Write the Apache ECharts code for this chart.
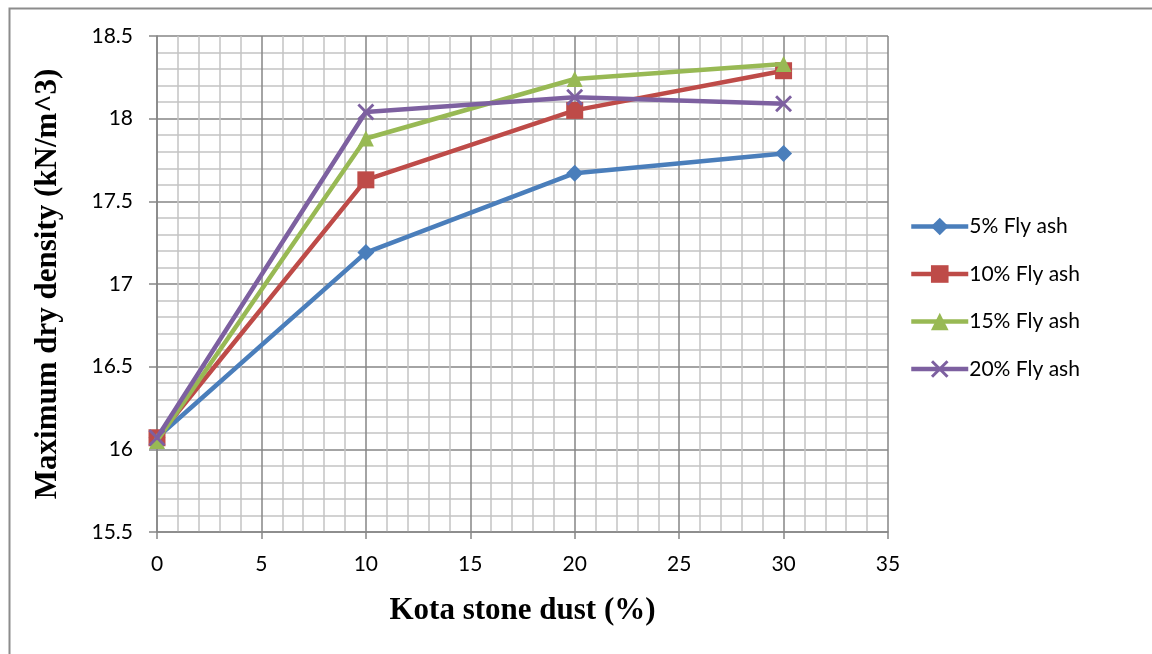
<!DOCTYPE html>
<html>
<head>
<meta charset="utf-8">
<script src="https://cdn.jsdelivr.net/npm/echarts@6/dist/echarts.min.js"></script>
<style>
html,body{margin:0;padding:0;background:#fff;}
#c{width:1152px;height:654px;}
</style>
</head>
<body>
<div id="c"></div>
<script>
var xValues = [0, 10, 20, 30];
var flyAsh5 = [16.07, 17.19, 17.67, 17.79];
var flyAsh10 = [16.07, 17.63, 18.05, 18.29];
var flyAsh15 = [16.05, 17.88, 18.24, 18.33];
var flyAsh20 = [16.07, 18.04, 18.13, 18.09];
var seriesNames = ['5% Fly ash', '10% Fly ash', '15% Fly ash', '20% Fly ash'];
var xTitle = 'Kota stone dust (%)';
var yTitle = 'Maximum dry density (kN/m^3)';

function pairs(ys){ return xValues.map(function(x,i){ return [x, ys[i]]; }); }

var colors = ['#4a7ebb', '#be4b48', '#98b954', '#7d60a0'];
var xSym = 'path://M0,1.2 L1.2,0 L10,8.8 L8.8,10 Z M8.8,0 L10,1.2 L1.2,10 L0,8.8 Z';
var symbols = ['diamond', 'rect', 'triangle', xSym];
var sizes = [17, 17, 16, 17];
var datasets = [flyAsh5, flyAsh10, flyAsh15, flyAsh20];
var tickFont = 'Lato';

var chart = echarts.init(document.getElementById('c'));
chart.setOption({
  animation: false,
  backgroundColor: '#fff',
  color: colors,
  graphic: [{
    type: 'rect', left: 7, top: 6, silent: true, z: -10,
    shape: {width: 1200, height: 700},
    style: {fill: 'none', stroke: '#8c8c8c', lineWidth: 2}
  }],
  grid: {left: 157, right: 264, top: 36, bottom: 122},
  legend: {
    orient: 'vertical', left: 904, top: 211,
    itemWidth: 57, itemHeight: 22, itemGap: 26.5,
    lineStyle: {width: 4.5},
    textStyle: {fontFamily: tickFont, fontSize: 21, color: '#000', padding: [0,0,0,-4]},
    data: seriesNames
  },
  xAxis: {
    type: 'value', min: 0, max: 35, interval: 5,
    axisLine: {show: true, lineStyle: {color: '#868686', width: 1.5}},
    axisTick: {show: true, length: 7, lineStyle: {color: '#868686', width: 1.5}},
    axisLabel: {fontFamily: tickFont, fontSize: 21, color: '#000', margin: 22},
    splitLine: {show: true, lineStyle: {color: '#868686', width: 1.5}},
    minorTick: {show: false, splitNumber: 5},
    minorSplitLine: {show: true, lineStyle: {color: '#c3c3c3', width: 1.5}},
    name: xTitle, nameLocation: 'middle', nameGap: 63,
    nameTextStyle: {fontFamily: 'Liberation Serif', fontWeight: 'bold', fontSize: 31, color: '#000'}
  },
  yAxis: {
    type: 'value', min: 15.5, max: 18.5, interval: 0.5,
    axisLine: {show: true, lineStyle: {color: '#868686', width: 1.5}},
    axisTick: {show: true, length: 8, lineStyle: {color: '#868686', width: 1.5}},
    axisLabel: {fontFamily: tickFont, fontSize: 21, color: '#000', margin: 24},
    splitLine: {show: true, lineStyle: {color: '#868686', width: 1.5}},
    minorTick: {show: false, splitNumber: 5},
    minorSplitLine: {show: true, lineStyle: {color: '#c3c3c3', width: 1.5}},
    name: yTitle, nameLocation: 'middle', nameGap: 94, nameRotate: 90,
    nameTextStyle: {fontFamily: 'Liberation Serif', fontWeight: 'bold', fontSize: 31, color: '#000'}
  },
  series: datasets.map(function(d, i){
    return {
      name: seriesNames[i], type: 'line', data: pairs(d),
      symbol: symbols[i], symbolSize: sizes[i],
      lineStyle: {width: 4.5, color: colors[i]},
      itemStyle: {color: colors[i]},
      z: 2 + i
    };
  })
});
</script>
</body>
</html>
